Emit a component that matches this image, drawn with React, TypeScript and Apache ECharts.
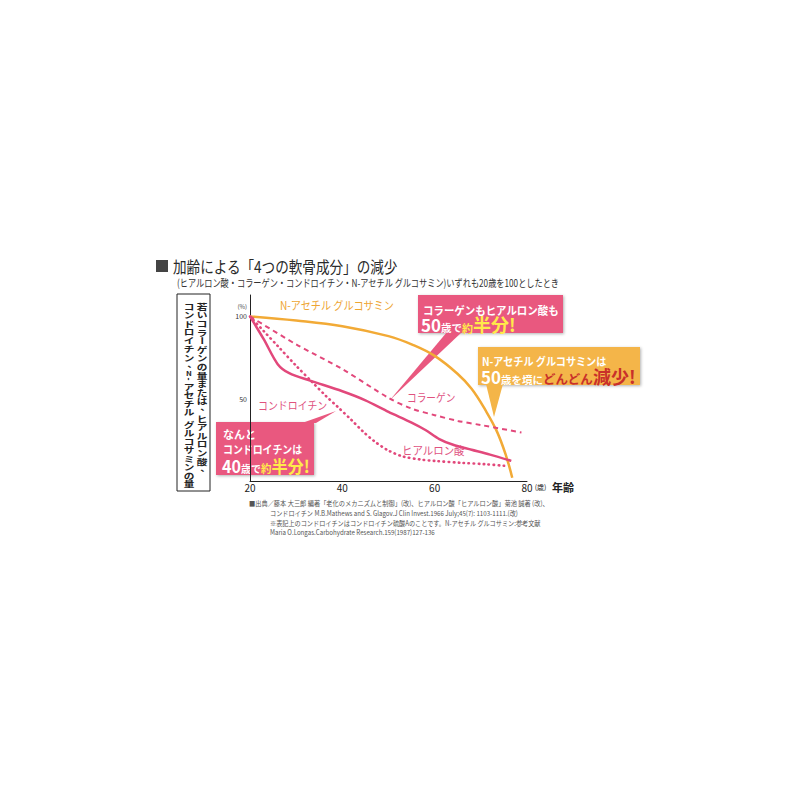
import React, { useEffect, useRef } from "react";
import * as echarts from "echarts";

// 年齢 → 20歳を100とした値
const glucosamineAges = [20, 30, 40, 50, 55, 60, 65, 68, 71, 73.5, 75.5, 76.8];
const glucosamineValues = [100, 97.5, 94, 88, 83, 76, 65, 56, 43, 30, 15, 2];

const collagenAges = [20, 30, 40, 50, 55, 60, 65, 70, 78.8];
const collagenValues = [100, 83, 68, 50.5, 44, 40, 36.5, 34, 29.5];

const hyaluronicAges = [20, 23, 26, 28.5, 33, 40, 45, 50, 55, 58, 61, 64, 68, 72, 76.6];
const hyaluronicValues = [100, 86, 71, 65.5, 61, 54.5, 49, 42, 35.5, 31, 25.5, 22, 19, 16, 12.2];

const chondroitinAges = [20, 23, 26, 30, 33.5, 36.5, 39, 42, 44.5, 47, 50, 53, 57, 60, 66, 71, 75.2];
const chondroitinValues = [100, 91, 82, 70, 60, 51.5, 45, 37, 30, 24, 18.5, 15, 13, 12.2, 11, 10.2, 9.2];

const xTicks = [20, 40, 60, 80];
const yTicks = [50, 100];

const FONT = "'Noto Sans CJK JP', 'Noto Sans', sans-serif";
const PINK = "#e2487b";
const PINK_LABEL = "#e0527f";
const PINK_BOX = "#e9587f";
const ORANGE = "#f2aa36";
const ORANGE_BOX = "#f4b548";
const ORANGE_LABEL = "#eea532";
const YELLOW = "#ffea4a";
const RED = "#c9302a";

const pairs = (xs: number[], ys: number[]) => xs.map((x, i) => [x, ys[i]]);

// 縦書きテキストを1文字ずつ並べる
function verticalText(str: string, cx: number, top: number, pitch: number) {
  const out: any[] = [];
  let y = top;
  for (const ch of str) {
    const w = ch === " " ? 0.5 : ch === "N" || ch === "-" ? 0.7 : 1;
    const cy = y + (pitch * w) / 2;
    if (ch !== " ") {
      const rotated = ch === "ー" || ch === "-";
      const punct = ch === "、";
      out.push({
        type: "text",
        x: cx + (punct ? 3.5 : 0),
        y: cy + (punct ? -2.5 : 0),
        rotation: rotated ? -Math.PI / 2 : 0,
        scaleX: rotated ? 1 : 1.3,
        scaleY: rotated ? 1.3 : 1,
        style: {
          text: ch,
          align: "center",
          verticalAlign: "middle",
          fontSize: ch === "N" ? 6 : 8.2,
          fontWeight: "bold",
          fontFamily: FONT,
          fill: "#222",
        },
      });
    }
    y += pitch * w;
  }
  return out;
}

const txt = (x: number, y: number, text: string, extra: any = {}, scaleX = 1) => ({
  type: "text",
  x,
  y,
  scaleX,
  style: {
    text,
    fontFamily: FONT,
    verticalAlign: "middle",
    ...extra,
  },
});

const bigRich = (yellowColor: string, bigSize = 18) => ({
  n: { fontSize: 17, fontWeight: "bold", fill: "#fff", fontFamily: FONT, verticalAlign: "bottom", lineHeight: 20 },
  s: { fontSize: 10.5, fontWeight: "bold", fill: "#fff", fontFamily: FONT, verticalAlign: "bottom", lineHeight: 18 },
  y: { fontSize: 11, fontWeight: "bold", fill: yellowColor, fontFamily: FONT, verticalAlign: "bottom", lineHeight: 18 },
  m: { fontSize: 12.5, fontWeight: "bold", fill: yellowColor, fontFamily: FONT, verticalAlign: "bottom", lineHeight: 18.5 },
  b: { fontSize: bigSize, fontWeight: "bold", fill: yellowColor, fontFamily: FONT, verticalAlign: "bottom", lineHeight: 20 },
});

const boxShadow = {
  shadowBlur: 3,
  shadowColor: "rgba(0,0,0,0.3)",
  shadowOffsetX: 1,
  shadowOffsetY: 1,
};

const App: React.FC = () => {
  const chartRef = useRef<HTMLDivElement | null>(null);

  useEffect(() => {
    if (!chartRef.current) return;
    const chart = echarts.init(chartRef.current, null, { renderer: "svg" });

    const option = {
      animation: false,
      backgroundColor: "#fff",
      textStyle: { fontFamily: FONT },
      grid: { left: 250, right: 273, top: 295, bottom: 319 },
      xAxis: {
        type: "value",
        min: 20,
        max: 80,
        interval: 20,
        axisLine: { lineStyle: { color: "#222", width: 1 } },
        axisTick: { show: false },
        splitLine: { show: false },
        axisLabel: {
          margin: 1,
          fontSize: 10,
          color: "#222",
          fontFamily: FONT,
          formatter: (v: number) =>
            xTicks.includes(v) ? (v === 80 ? "{p|}{a|80}{u|(歳)}" : String(v)) : "",
          rich: {
            p: { width: 16 },
            a: { fontSize: 10, color: "#222", fontFamily: FONT },
            u: { fontSize: 7, width: 16, color: "#222", fontFamily: FONT },
          },
        },
      },
      yAxis: {
        type: "value",
        min: 0,
        max: 113,
        interval: 50,
        axisLine: { show: true, lineStyle: { color: "#222", width: 1 } },
        axisTick: { show: false },
        splitLine: { show: false },
        axisLabel: {
          margin: 3,
          fontSize: 7,
          color: "#333",
          fontFamily: FONT,
          formatter: (v: number) => (yTicks.includes(v) ? String(v) : ""),
        },
      },
      series: [
        {
          name: "N-アセチル グルコサミン",
          type: "line",
          data: pairs(glucosamineAges, glucosamineValues),
          smooth: 0.4,
          symbol: "none",
          lineStyle: { color: ORANGE, width: 2.5 },
        },
        {
          name: "コラーゲン",
          type: "line",
          data: pairs(collagenAges, collagenValues),
          smooth: 0.3,
          symbol: "none",
          lineStyle: { color: PINK, width: 2, type: [5, 4] },
        },
        {
          name: "ヒアルロン酸",
          type: "line",
          data: pairs(hyaluronicAges, hyaluronicValues),
          smooth: 0.3,
          symbol: "none",
          lineStyle: { color: PINK, width: 2.5 },
        },
        {
          name: "コンドロイチン",
          type: "line",
          data: pairs(chondroitinAges, chondroitinValues),
          smooth: 0.3,
          symbol: "none",
          lineStyle: { color: PINK, width: 2.6, type: [0.5, 4.5], cap: "round" },
        },
      ],
      graphic: [
        // タイトル
        { type: "rect", shape: { x: 156, y: 260, width: 12, height: 12 }, style: { fill: "#444" } },
        txt(173, 266, "加齢による「4つの軟骨成分」の減少", { fontSize: 16, fill: "#2a2a2a" }, 0.85),
        txt(
          177,
          283,
          "(ヒアルロン酸・コラーゲン・コンドロイチン・N-アセチル グルコサミン)いずれも20歳を100としたとき",
          { fontSize: 10.5, fill: "#333" },
          0.78
        ),
        // 縦書きの枠
        {
          type: "rect",
          shape: { x: 177, y: 294, width: 33, height: 197 },
          style: { fill: "none", stroke: "#222", lineWidth: 1 },
        },
        ...verticalText("若いコラーゲンの量または、ヒアルロン酸、", 202, 302, 8.6),
        ...verticalText("コンドロイチン、N-アセチル グルコサミンの量", 189, 302, 8.5),
        // 軸まわり
        txt(247, 306, "(%)", { fontSize: 6, fill: "#444", align: "right" }),
        txt(552, 487, "年齢", { fontSize: 11, fontWeight: "bold", fill: "#222" }),
        // 系列ラベル
        txt(280, 305, "N-アセチル グルコサミン", { fontSize: 11.5, fill: ORANGE_LABEL }, 0.88),
        txt(258, 405, "コンドロイチン", { fontSize: 11, fill: PINK_LABEL }, 0.9),
        txt(407, 397, "コラーゲン", { fontSize: 11, fill: PINK_LABEL }, 0.88),
        txt(402, 450, "ヒアルロン酸", { fontSize: 11, fill: PINK_LABEL }, 0.95),
        // 吹き出し: コラーゲンもヒアルロン酸も
        {
          type: "group",
          z: 100,
          children: [
            { type: "rect", shape: { x: 418, y: 295, width: 145, height: 38 }, style: { fill: PINK_BOX, ...boxShadow } },
            { type: "polygon", shape: { points: [[447, 332], [462, 332], [390, 400]] }, style: { fill: PINK_BOX } },
            txt(423, 310, "コラーゲンもヒアルロン酸も", { fontSize: 11, fontWeight: "bold", fill: "#fff" }, 0.95),
            {
              type: "text",
              x: 421,
              y: 333,
              style: {
                text: "{n|50}{s|歳で}{y|約}{b|半分!}",
                verticalAlign: "bottom",
                rich: bigRich(YELLOW, 18),
              },
            },
          ],
        },
        // 吹き出し: N-アセチル グルコサミンは
        {
          type: "group",
          z: 100,
          children: [
            { type: "rect", shape: { x: 478, y: 347, width: 162, height: 38 }, style: { fill: ORANGE_BOX, ...boxShadow } },
            { type: "polygon", shape: { points: [[486, 384], [503, 384], [494, 417]] }, style: { fill: ORANGE_BOX } },
            txt(482, 361, "N-アセチル グルコサミンは", { fontSize: 11, fontWeight: "bold", fill: "#fff" }, 0.92),
            {
              type: "text",
              x: 481,
              y: 385,
              style: {
                text: "{n|50}{s|歳を境に}{m|どんどん}{b|減少!}",
                verticalAlign: "bottom",
                rich: bigRich(RED, 18),
              },
            },
          ],
        },
        // 吹き出し: なんとコンドロイチンは
        {
          type: "group",
          z: 100,
          children: [
            { type: "rect", shape: { x: 216, y: 422, width: 98, height: 53 }, style: { fill: PINK_BOX, ...boxShadow } },
            { type: "polygon", shape: { points: [[302, 423], [316, 423], [336, 411]] }, style: { fill: PINK_BOX } },
            txt(223, 434, "なんと", { fontSize: 11, fontWeight: "bold", fill: "#fff" }),
            txt(223, 449, "コンドロイチンは", { fontSize: 11, fontWeight: "bold", fill: "#fff" }, 0.9),
            {
              type: "text",
              x: 222,
              y: 474,
              scaleX: 0.95,
              style: {
                text: "{n|40}{s|歳で}{y|約}{b|半分!}",
                verticalAlign: "bottom",
                rich: bigRich(YELLOW, 17),
              },
            },
          ],
        },
        // 出典
        txt(249, 503, "■出典／藤本 大三郎 編著「老化のメカニズムと制御」(改)、ヒアルロン酸「ヒアルロン酸」菊池 誠著 (改)、", { fontSize: 7, fill: "#555" }, 0.89),
        txt(270, 513, "コンドロイチン M.B.Mathews and S. Glagov.J Clin Invest.1966 July;45(7): 1103-1111.(改)", { fontSize: 7, fill: "#555" }, 0.88),
        txt(270, 522.5, "※表記上のコンドロイチンはコンドロイチン硫酸Aのことです。N-アセチル グルコサミン:参考文献", { fontSize: 7, fill: "#555" }, 0.88),
        txt(270, 532, "Maria O.Longas.Carbohydrate Research.159(1987)127-136", { fontSize: 7, fill: "#555" }, 0.88),
      ],
    };

    chart.setOption(option as any);

    return () => {
      chart.dispose();
    };
  }, []);

  return (
    <div
      ref={chartRef}
      style={{ position: "fixed", left: 0, top: 0, width: "800px", height: "800px" }}
    />
  );
};

export default App;
